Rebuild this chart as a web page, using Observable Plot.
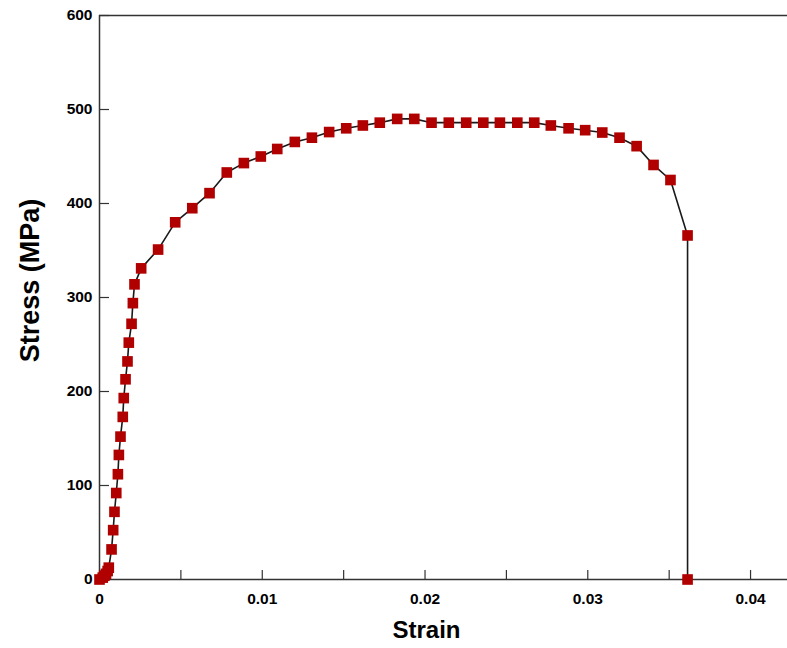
<!DOCTYPE html>
<html>
<head>
<meta charset="utf-8">
<script src="https://cdn.jsdelivr.net/npm/d3@7"></script>
<script src="https://cdn.jsdelivr.net/npm/@observablehq/plot@0.6"></script>
<style>
  html, body { margin: 0; padding: 0; background: #fff; }
</style>
</head>
<body>
<div id="chart"></div>
<script>
const strain = [0, 0.0002, 0.0003, 0.0004, 0.0005, 0.00057, 0.00074, 0.00084, 0.00092, 0.00103,
  0.00113, 0.00119, 0.00129, 0.00143, 0.00149, 0.0016, 0.00172, 0.0018, 0.00197, 0.00205,
  0.00215, 0.00256, 0.0036, 0.00465, 0.0057, 0.00676, 0.00782, 0.00887, 0.00991, 0.01092,
  0.0120, 0.01305, 0.01411, 0.01516, 0.01618, 0.01722, 0.01829, 0.01934, 0.0204, 0.02146,
  0.02253, 0.02358, 0.0246, 0.02567, 0.02671, 0.02773, 0.02882, 0.02984, 0.03089, 0.03195,
  0.033, 0.03404, 0.03508, 0.03613, 0.03613];
const stress = [0, 2, 4, 6, 9, 12.6, 32, 52.5, 72, 92,
  112, 132.5, 152, 173, 193, 213, 232, 252, 272, 294,
  314, 331, 351, 380, 395, 411, 433, 443, 450, 458,
  465.5, 470, 476, 480, 483, 486, 490, 490, 486, 486,
  486, 486, 486, 486, 486, 483, 480, 478, 475.5, 470,
  461, 441, 425, 366, 0];

const xTicks = [0, 0.005, 0.01, 0.015, 0.02, 0.025, 0.03, 0.035, 0.04];
const xLabels = [0, 0.01, 0.02, 0.03, 0.04];
const yTicks = [0, 100, 200, 300, 400, 500, 600];
const xTitle = "Strain";
const yTitle = "Stress (MPa)";

const data = strain.map((s, i) => ({strain: s, stress: stress[i]}));

const axisColor = "#333";

const chart = Plot.plot({
  width: 787,
  height: 648,
  marginLeft: 99,
  marginRight: 0,
  marginTop: 15,
  marginBottom: 69,
  style: {fontFamily: "'Liberation Sans', Arial, sans-serif", fontWeight: "bold", color: "#000", background: "#fff"},
  x: {domain: [0, 0.04227]},
  y: {domain: [0, 600]},
  marks: [
    Plot.ruleY([600], {stroke: axisColor, strokeWidth: 1.5}),
    Plot.ruleY([0], {stroke: axisColor, strokeWidth: 1.5}),
    Plot.ruleX([0], {stroke: axisColor, strokeWidth: 1.5}),
    Plot.axisX(xTicks, {tickSize: -9, tickFormat: () => "", stroke: axisColor, strokeWidth: 1.2, label: null}),
    Plot.axisX(xLabels, {tickSize: 0, tickPadding: 13, fontSize: 15.5, fill: "#000",
      tickFormat: d => d === 0 ? "0" : d.toFixed(2), label: null}),
    Plot.axisY(yTicks, {tickSize: -10, tickFormat: () => "", stroke: axisColor, strokeWidth: 1.2, label: null}),
    Plot.axisY(yTicks, {tickSize: 0, tickPadding: 7, fontSize: 15.5, fill: "#000", label: null}),
    Plot.line(data, {x: "strain", y: "stress", stroke: "#1a1a1a", strokeWidth: 1.6}),
    Plot.dot(data, {x: "strain", y: "stress", symbol: "square", r: 6, fill: "#b00000", stroke: null}),
    Plot.text([xTitle], {text: d => d, frameAnchor: "bottom", lineAnchor: "middle", textAnchor: "middle", dy: 51, dx: -17, fontSize: 24, fontWeight: "bold", fill: "#000"}),
    Plot.text([yTitle], {text: d => d, frameAnchor: "left", lineAnchor: "middle", textAnchor: "middle", rotate: -90, dx: -69, dy: -17, fontSize: 27, fontWeight: "bold", fill: "#000"})
  ]
});
document.getElementById("chart").appendChild(chart);
</script>
</body>
</html>
